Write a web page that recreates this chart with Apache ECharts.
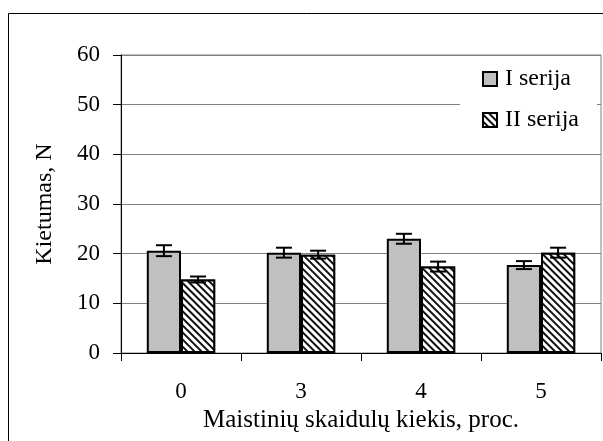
<!DOCTYPE html>
<html>
<head>
<meta charset="utf-8">
<script src="https://cdn.jsdelivr.net/npm/echarts@6/dist/echarts.min.js"></script>
<style>html,body{margin:0;padding:0;background:#fff}#c{width:603px;height:441px}</style>
</head>
<body>
<div id="c"></div>
<script>
const categories = ['0', '3', '4', '5'];
const seriesNames = ['I serija', 'II serija'];
const serija1 = [20.6, 20.2, 23.0, 17.7];
const serija1Err = [1.1, 1.0, 1.0, 0.8];
const serija2 = [14.8, 19.8, 17.4, 20.2];
const serija2Err = [0.6, 0.8, 1.0, 1.0];

const FONT = 'Liberation Serif';
const CAT_GAP = 0.43;

function errSeries(vals, errs, side) {
  return {
    type: 'custom',
    z: 5,
    silent: true,
    encode: { x: 0, y: 1 },
    data: vals.map((v, i) => [i, v, errs[i]]),
    renderItem: function (params, api) {
      const i = api.value(0), v = api.value(1), e = api.value(2);
      const band = api.size([1, 0])[0];
      const barW = band * (1 - CAT_GAP) / 2;
      const off = side * barW / 2;
      const top = api.coord([i, v + e]);
      const bot = api.coord([i, v - e]);
      const x = top[0] + off;
      const cap = 8;
      const st = { stroke: '#000', lineWidth: 2 };
      return {
        type: 'group',
        children: [
          { type: 'line', shape: { x1: x, y1: top[1], x2: x, y2: bot[1] }, style: st },
          { type: 'line', shape: { x1: x - cap, y1: top[1], x2: x + cap, y2: top[1] }, style: st },
          { type: 'line', shape: { x1: x - cap, y1: bot[1], x2: x + cap, y2: bot[1] }, style: st }
        ]
      };
    }
  };
}

const chart = echarts.init(document.getElementById('c'), null, { renderer: 'canvas' });
chart.setOption({
  animation: false,
  backgroundColor: '#fff',
  textStyle: { fontFamily: FONT },
  graphic: [{
    type: 'rect', silent: true, z: 100,
    shape: { x: 8.5, y: 13.5, width: 800, height: 800 },
    style: { fill: null, stroke: '#000', lineWidth: 1 }
  }],
  grid: {
    left: 121, right: 2, top: 55, bottom: 88,
    show: true, borderColor: '#808080', borderWidth: 1, backgroundColor: 'transparent'
  },
  legend: {
    data: seriesNames,
    orient: 'vertical',
    left: 460, top: 58,
    backgroundColor: '#fff',
    padding: [9, 18, 17, 22],
    itemGap: 17,
    itemWidth: 14, itemHeight: 14,
    icon: 'rect',
    selectedMode: false,
    textStyle: { fontFamily: FONT, fontSize: 24, color: '#000', lineHeight: 24, padding: [0, 0, 0, 3] }
  },
  xAxis: {
    type: 'category',
    data: categories,
    name: 'Maistinių skaidulų kiekis, proc.',
    nameLocation: 'middle',
    nameGap: 41,
    nameTextStyle: { fontFamily: FONT, fontSize: 25, color: '#000' },
    axisLine: { lineStyle: { color: '#000', width: 1 } },
    axisTick: { show: true, length: 8, interval: 0, lineStyle: { color: '#000' } },
    axisLabel: { fontFamily: FONT, fontSize: 23, color: '#000', margin: 27 },
    splitLine: { show: false }
  },
  yAxis: {
    type: 'value',
    min: 0, max: 60, interval: 10,
    name: 'Kietumas, N',
    nameLocation: 'middle',
    nameGap: 64,
    nameTextStyle: { fontFamily: FONT, fontSize: 24, color: '#000' },
    axisLine: { show: true, lineStyle: { color: '#000', width: 1 } },
    axisTick: { show: true, length: 8, lineStyle: { color: '#000' } },
    axisLabel: { fontFamily: FONT, fontSize: 23, color: '#000', margin: 21 },
    splitLine: { show: true, lineStyle: { color: '#808080', width: 1 } }
  },
  series: [
    {
      name: seriesNames[0], type: 'bar', data: serija1,
      barGap: '0%', barCategoryGap: (CAT_GAP * 100) + '%',
      itemStyle: { color: '#c0c0c0', borderColor: '#000', borderWidth: 2 }
    },
    {
      name: seriesNames[1], type: 'bar', data: serija2,
      barGap: '0%', barCategoryGap: (CAT_GAP * 100) + '%',
      itemStyle: {
        color: '#fff', borderColor: '#000', borderWidth: 2,
        decal: {
          symbol: 'rect', symbolSize: 1,
          dashArrayX: [1, 0], dashArrayY: [1.4, 2.8],
          rotation: Math.PI / 4,
          color: '#111', backgroundColor: '#fff'
        }
      }
    },
    errSeries(serija1, serija1Err, -1),
    errSeries(serija2, serija2Err, 1)
  ]
});
</script>
</body>
</html>
